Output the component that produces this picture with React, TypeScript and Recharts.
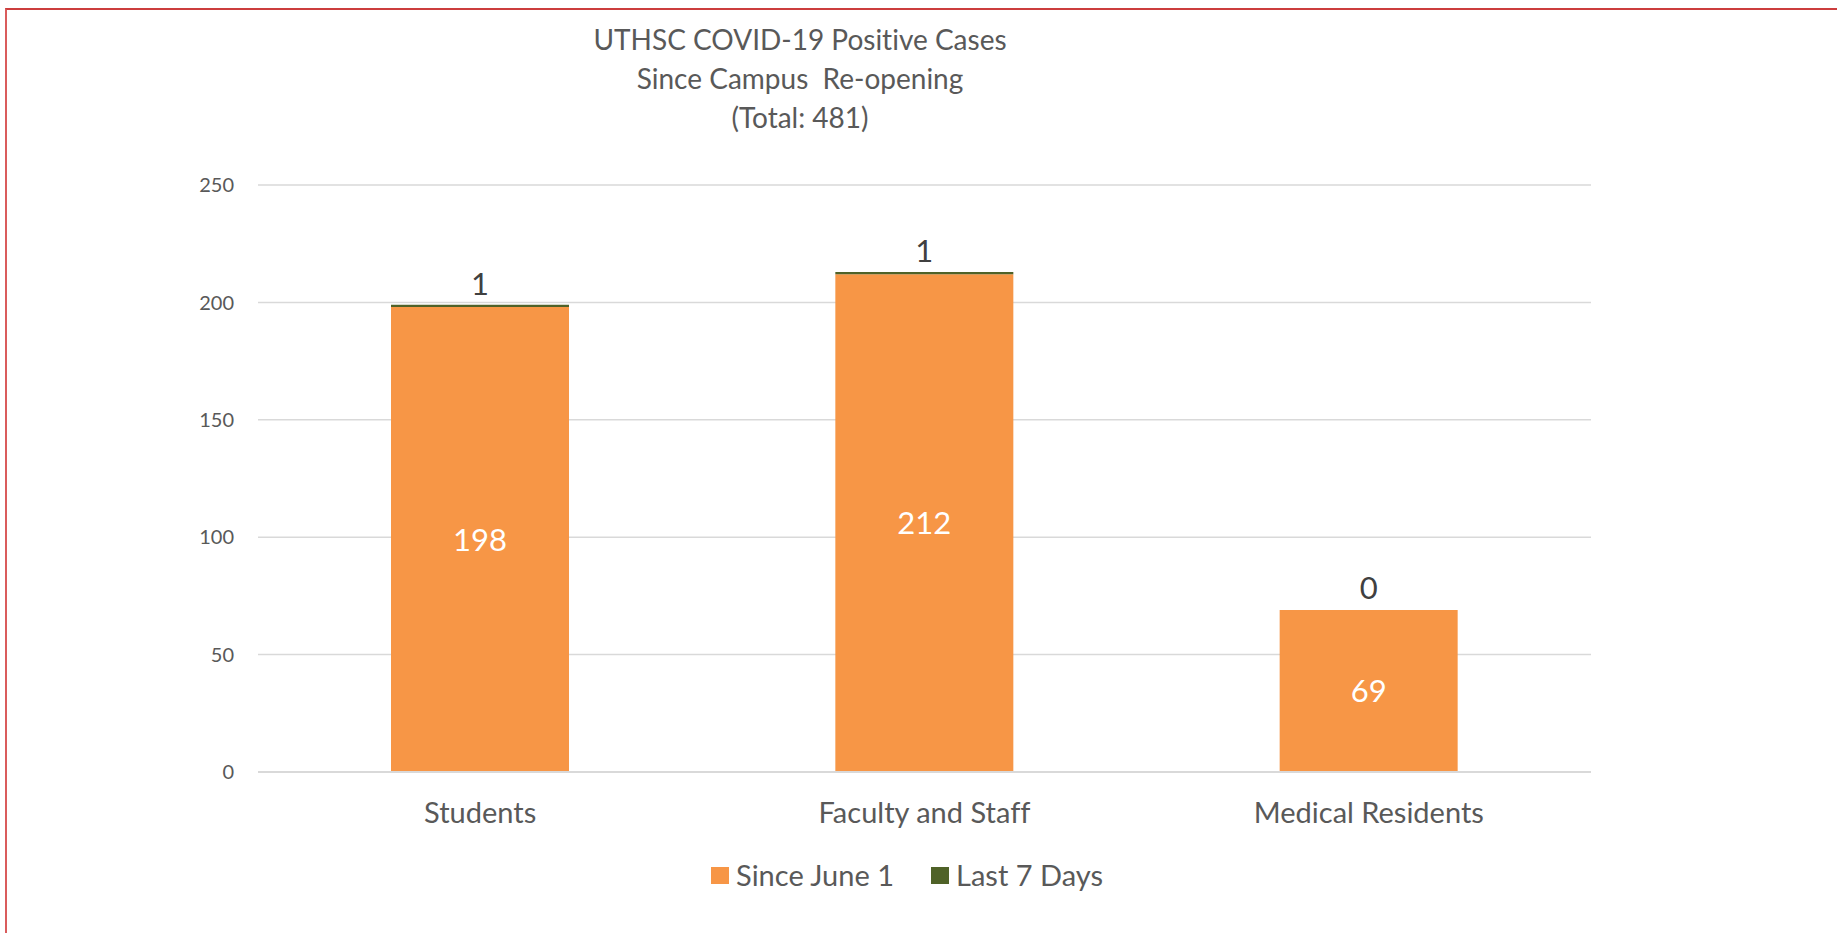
import React from "react";
import { Bar, BarChart, CartesianGrid, Cell, LabelList, Legend, XAxis, YAxis } from "recharts";

const categories = ["Students", "Faculty and Staff", "Medical Residents"];
const sinceJune1 = [198, 212, 69];
const last7Days = [1, 1, 0];
const yTicks = [0, 50, 100, 150, 200, 250];
const titleLines = ["UTHSC COVID-19 Positive Cases", "Since Campus  Re-opening", "(Total: 481)"];
const seriesOrder = ["since", "last7"];

const FONT = "Lato, 'Open Sans', sans-serif";
const ORANGE = "#F79646";
const GREEN = "#4F6228";

const data = categories.map((name, i) => ({
  name,
  since: sinceJune1[i],
  last7: last7Days[i]
}));

function LegendContent({ payload }: { payload?: any[] }) {
  return (
    <div style={{ display: "flex", justifyContent: "center", alignItems: "center" }}>
      {(payload ?? []).map((p, i) => (
        <div
          key={i}
          style={{ display: "flex", alignItems: "center", marginLeft: i === 0 ? 0 : 37 }}
        >
          <span style={{ display: "inline-block", width: 18, height: 17, background: p.color }} />
          <span
            style={{
              marginLeft: 7,
              fontFamily: FONT,
              fontSize: 29,
              color: "#595959",
              lineHeight: "30px",
              whiteSpace: "pre"
            }}
          >
            {p.value}
          </span>
        </div>
      ))}
    </div>
  );
}

export default function App() {
  return (
    <div
      style={{
        position: "absolute",
        left: 0,
        top: 0,
        width: 1837,
        height: 933,
        background: "#fff",
        overflow: "hidden",
        fontVariantLigatures: "none"
      }}
    >
      <div
        style={{
          position: "absolute",
          left: 5,
          top: 8,
          right: 0,
          bottom: 0,
          borderTop: "2px solid #CC3D3D",
          borderLeft: "2px solid #DA5C5C"
        }}
      />
      <div
        style={{
          position: "absolute",
          left: 500,
          width: 600,
          top: 20,
          textAlign: "center",
          fontFamily: FONT,
          fontSize: 28,
          lineHeight: "39px",
          color: "#595959",
          whiteSpace: "pre"
        }}
      >
        {titleLines.map((t) => (
          <div key={t}>{t}</div>
        ))}
      </div>
      <BarChart
        width={1837}
        height={933}
        data={data}
        margin={{ top: 185, right: 246, bottom: 101, left: 0 }}
        barSize={178}
        style={{ fontVariantLigatures: "none" }}
      >
        <CartesianGrid stroke="#D9D9D9" strokeWidth={1.5} vertical={false} />
        <XAxis
          dataKey="name"
          axisLine={{ stroke: "#D9D9D9", strokeWidth: 2 }}
          tickLine={false}
          tickSize={0}
          tickMargin={30}
          height={60}
          tick={{ fill: "#595959", fontSize: 29, fontFamily: FONT }}
        />
        <YAxis
          domain={[0, 250]}
          ticks={yTicks}
          width={258}
          axisLine={false}
          tickLine={false}
          tickSize={0}
          tickMargin={24}
          tick={{ fill: "#595959", fontSize: 20, fontFamily: FONT }}
        />
        <Legend
          layout="horizontal"
          verticalAlign="middle"
          align="center"
          itemSorter={(item: any) => seriesOrder.indexOf(item.dataKey)}
          content={<LegendContent />}
          wrapperStyle={{ top: 860, left: 0, width: 1814, height: 30 }}
        />
        <Bar dataKey="since" name="Since June 1" stackId="a" fill={ORANGE} isAnimationActive={false}>
          <LabelList dataKey="since" position="center" fill="#FFFFFF" fontSize={31} fontFamily={FONT} />
        </Bar>
        <Bar
          dataKey="last7"
          name="Last 7 Days"
          stackId="a"
          fill={GREEN}
          minPointSize={1}
          isAnimationActive={false}
        >
          {data.map((d, i) => (
            <Cell key={i} fill={d.last7 === 0 ? "transparent" : GREEN} />
          ))}
          <LabelList dataKey="last7" position="top" offset={10} fill="#404040" fontSize={31} fontFamily={FONT} />
        </Bar>
      </BarChart>
    </div>
  );
}
